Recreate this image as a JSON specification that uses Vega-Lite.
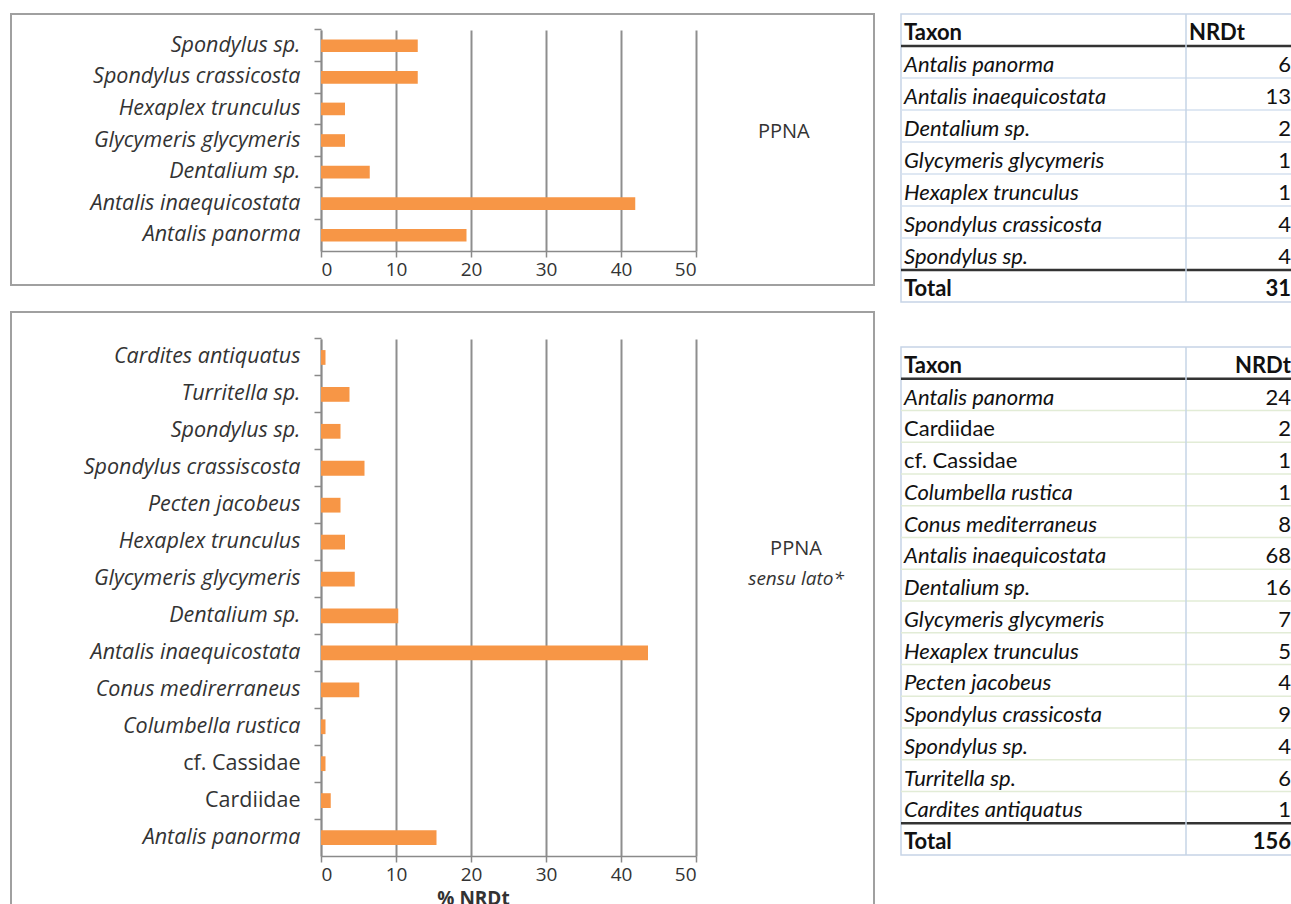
{
  "$schema": "https://vega.github.io/schema/vega-lite/v6.json",
  "padding": {"left": 10, "top": 12, "right": 0, "bottom": 0},
  "background": "white",
  "spacing": 24,
  "config": {
    "view": {"stroke": "#a0a0a0", "strokeWidth": 2},
    "axis": {"labelFont": "Open Sans", "titleFont": "Open Sans", "labelColor": "#333", "domainColor": "#8a8a8a", "tickColor": "#8a8a8a", "gridColor": "#8e8e8e", "domainWidth": 1.5, "tickWidth": 1.5, "gridWidth": 2}
  },
  "datasets": {
    "c1": [
      {"taxon": "Spondylus sp.", "pct": 12.9},
      {"taxon": "Spondylus crassicosta", "pct": 12.9},
      {"taxon": "Hexaplex trunculus", "pct": 3.2},
      {"taxon": "Glycymeris glycymeris", "pct": 3.2},
      {"taxon": "Dentalium sp.", "pct": 6.5},
      {"taxon": "Antalis inaequicostata", "pct": 41.9},
      {"taxon": "Antalis panorma", "pct": 19.4}
    ],
    "c2": [
      {"taxon": "Cardites antiquatus", "pct": 0.6},
      {"taxon": "Turritella sp.", "pct": 3.8},
      {"taxon": "Spondylus sp.", "pct": 2.6},
      {"taxon": "Spondylus crassiscosta", "pct": 5.8},
      {"taxon": "Pecten jacobeus", "pct": 2.6},
      {"taxon": "Hexaplex trunculus", "pct": 3.2},
      {"taxon": "Glycymeris glycymeris", "pct": 4.5},
      {"taxon": "Dentalium sp.", "pct": 10.3},
      {"taxon": "Antalis inaequicostata", "pct": 43.6},
      {"taxon": "Conus medirerraneus", "pct": 5.1},
      {"taxon": "Columbella rustica", "pct": 0.6},
      {"taxon": "cf. Cassidae", "pct": 0.6},
      {"taxon": "Cardiidae", "pct": 1.3},
      {"taxon": "Antalis panorma", "pct": 15.4}
    ],
    "t1": [
      {"r": 0, "taxon": "Taxon", "n": "NRDt"},
      {"r": 1, "taxon": "Antalis panorma", "n": 6},
      {"r": 2, "taxon": "Antalis inaequicostata", "n": 13},
      {"r": 3, "taxon": "Dentalium  sp.", "n": 2},
      {"r": 4, "taxon": "Glycymeris glycymeris", "n": 1},
      {"r": 5, "taxon": "Hexaplex trunculus", "n": 1},
      {"r": 6, "taxon": "Spondylus crassicosta", "n": 4},
      {"r": 7, "taxon": "Spondylus  sp.", "n": 4},
      {"r": 8, "taxon": "Total", "n": 31}
    ],
    "t2": [
      {"r": 0, "taxon": "Taxon", "n": "NRDt"},
      {"r": 1, "taxon": "Antalis panorma", "n": 24},
      {"r": 2, "taxon": "Cardiidae", "n": 2},
      {"r": 3, "taxon": "cf. Cassidae", "n": 1},
      {"r": 4, "taxon": "Columbella rustica", "n": 1},
      {"r": 5, "taxon": "Conus mediterraneus", "n": 8},
      {"r": 6, "taxon": "Antalis inaequicostata", "n": 68},
      {"r": 7, "taxon": "Dentalium  sp.", "n": 16},
      {"r": 8, "taxon": "Glycymeris glycymeris", "n": 7},
      {"r": 9, "taxon": "Hexaplex trunculus", "n": 5},
      {"r": 10, "taxon": "Pecten jacobeus", "n": 4},
      {"r": 11, "taxon": "Spondylus crassicosta", "n": 9},
      {"r": 12, "taxon": "Spondylus  sp.", "n": 4},
      {"r": 13, "taxon": "Turritella  sp.", "n": 6},
      {"r": 14, "taxon": "Cardites antiquatus", "n": 1},
      {"r": 15, "taxon": "Total", "n": 156}
    ]
  },
  "hconcat": [
    {
      "spacing": 25,
      "vconcat": [
        {
          "width": 863,
          "height": 271,
          "title": {"text": "PPNA", "orient": "right", "angle": 0, "align": "center", "baseline": "middle", "anchor": "middle", "offset": -142, "dy": -18, "font": "Open Sans", "fontSize": 20, "fontWeight": "normal", "color": "#333"},
          "data": {"name": "c1"},
          "encoding": {
            "y": {"field": "taxon", "type": "nominal", "sort": null,
              "scale": {"range": [16, 237], "paddingInner": 0.6, "paddingOuter": 0.3},
              "axis": {"title": null, "offset": -310, "bandPosition": -0.75, "labelFontSize": 21.5, "labelLimit": 400, "labelFontStyle": "italic", "tickSize": 7, "labelPadding": 14, "grid": false}}
          },
          "layer": [
            {"mark": {"type": "bar", "opacity": 0},
              "encoding": {"x": {"field": "pct", "type": "quantitative", "scale": {"domain": [0, 50], "range": [310, 685], "nice": false},
                "axis": {"orient": "top", "title": null, "values": [0, 10, 20, 30, 40, 50], "grid": true, "labels": false, "ticks": false, "domain": false}}}},
            {"mark": {"type": "bar", "color": "#f79646"},
              "encoding": {"x": {"field": "pct", "type": "quantitative", "scale": {"domain": [0, 50], "range": [310, 685], "nice": false},
                "axis": {"orient": "bottom", "title": null, "values": [0, 10, 20, 30, 40, 50], "offset": -34, "labelFontSize": 19, "tickSize": 6, "labelPadding": 3, "grid": false}}}}
          ],
          "resolve": {"axis": {"x": "independent"}}
        },
        {
          "width": 863,
          "height": 610,
          "title": {"text": "PPNA", "subtitle": "sensu lato*", "subtitleFontStyle": "italic", "subtitleFont": "Open Sans", "subtitleFontSize": 19, "subtitleColor": "#333", "subtitlePadding": 11, "orient": "top", "anchor": "start", "frame": "group", "align": "center", "dx": 785, "offset": -277, "font": "Open Sans", "fontSize": 20, "fontWeight": "normal", "color": "#333"},
          "data": {"name": "c2"},
          "encoding": {
            "y": {"field": "taxon", "type": "nominal", "sort": null,
              "scale": {"range": [27, 544], "paddingInner": 0.6, "paddingOuter": 0.3},
              "axis": {"title": null, "offset": -310, "bandPosition": -0.75, "labelFontSize": 21.5, "labelLimit": 400,
                "labelFontStyle": {"condition": {"test": "datum.value == 'cf. Cassidae' || datum.value == 'Cardiidae'", "value": "normal"}, "value": "italic"},
                "tickSize": 7, "labelPadding": 14, "grid": false}}
          },
          "layer": [
            {"mark": {"type": "bar", "opacity": 0},
              "encoding": {"x": {"field": "pct", "type": "quantitative", "scale": {"domain": [0, 50], "range": [310, 685], "nice": false},
                "axis": {"orient": "top", "title": null, "values": [0, 10, 20, 30, 40, 50], "grid": true, "labels": false, "ticks": false, "domain": false}}}},
            {"mark": {"type": "bar", "color": "#f79646"},
              "encoding": {"x": {"field": "pct", "type": "quantitative", "scale": {"domain": [0, 50], "range": [310, 685], "nice": false},
                "axis": {"orient": "bottom", "title": "% NRDt", "titleFontSize": 19, "titleFontWeight": "bold", "titleColor": "#333", "titleX": 462, "titleY": 33, "values": [0, 10, 20, 30, 40, 50], "offset": -66, "labelFontSize": 19, "tickSize": 6, "labelPadding": 3, "grid": false}}}}
          ],
          "resolve": {"axis": {"x": "independent"}}
        }
      ]
    },
    {
      "spacing": 41,
      "vconcat": [
        {
          "width": 393,
          "height": 288,
          "view": {"stroke": "#c6d4e6", "strokeWidth": 1.5},
          "data": {"name": "t1"},
          "encoding": {
            "y": {"field": "r", "type": "ordinal", "scale": {"type": "band", "paddingInner": 0, "paddingOuter": 0}, "axis": null}
          },
          "layer": [
            {"transform": [{"filter": "datum.r >= 2 && datum.r <= 7"}], "mark": {"type": "rule", "color": "#d5e1ef", "strokeWidth": 1.5}, "encoding": {"y": {"field": "r", "type": "ordinal", "bandPosition": 0}}},
            {"transform": [{"filter": "datum.r == 1 || datum.r == 8"}], "mark": {"type": "rule", "color": "#333", "strokeWidth": 2.5}, "encoding": {"y": {"field": "r", "type": "ordinal", "bandPosition": 0}}},
            {"transform": [{"filter": "datum.r == 0"}], "mark": {"type": "rule", "color": "#c6d4e6", "strokeWidth": 1.5}, "encoding": {"x": {"datum": "NRDt", "type": "nominal", "scale": {"type": "point", "domain": ["Taxon", "NRDt"], "range": [0, 285], "padding": 0}, "axis": null}, "y": null}},
            {"transform": [{"filter": "datum.r >= 1 && datum.r <= 7"}], "mark": {"type": "text", "align": "left", "dx": 3, "dy": 3, "font": "Lato", "fontSize": 22, "fontStyle": "italic", "color": "#111"},
              "encoding": {"x": {"datum": "Taxon", "type": "nominal"}, "text": {"field": "taxon"}}},
            {"transform": [{"filter": "datum.r == 0 || datum.r == 8"}], "mark": {"type": "text", "align": "left", "dx": 3, "dy": 3, "font": "Lato", "fontSize": 22, "fontWeight": "bold", "color": "#111"},
              "encoding": {"x": {"datum": "Taxon", "type": "nominal"}, "text": {"field": "taxon"}}},
            {"transform": [{"filter": "datum.r >= 1 && datum.r <= 7"}], "mark": {"type": "text", "align": "right", "dx": 105, "dy": 3, "font": "Lato", "fontSize": 22, "color": "#111"},
              "encoding": {"x": {"datum": "NRDt", "type": "nominal"}, "text": {"field": "n"}}},
            {"transform": [{"filter": "datum.r == 8"}], "mark": {"type": "text", "align": "right", "dx": 105, "dy": 3, "font": "Lato", "fontSize": 22, "fontWeight": "bold", "color": "#111"},
              "encoding": {"x": {"datum": "NRDt", "type": "nominal"}, "text": {"field": "n"}}},
            {"transform": [{"filter": "datum.r == 0"}], "mark": {"type": "text", "align": "left", "dx": 3, "dy": 3, "font": "Lato", "fontSize": 22, "fontWeight": "bold", "color": "#111"},
              "encoding": {"x": {"datum": "NRDt", "type": "nominal"}, "text": {"field": "n"}}}
          ]
        },
        {
          "width": 393,
          "height": 508,
          "view": {"stroke": "#c6d4e6", "strokeWidth": 1.5},
          "data": {"name": "t2"},
          "encoding": {
            "y": {"field": "r", "type": "ordinal", "scale": {"type": "band", "paddingInner": 0, "paddingOuter": 0}, "axis": null}
          },
          "layer": [
            {"transform": [{"filter": "datum.r >= 2 && datum.r <= 14"}], "mark": {"type": "rule", "color": "#e2ecd6", "strokeWidth": 1.5}, "encoding": {"y": {"field": "r", "type": "ordinal", "bandPosition": 0}}},
            {"transform": [{"filter": "datum.r == 1 || datum.r == 15"}], "mark": {"type": "rule", "color": "#333", "strokeWidth": 2.5}, "encoding": {"y": {"field": "r", "type": "ordinal", "bandPosition": 0}}},
            {"transform": [{"filter": "datum.r == 0"}], "mark": {"type": "rule", "color": "#c6d4e6", "strokeWidth": 1.5}, "encoding": {"x": {"datum": "NRDt", "type": "nominal", "scale": {"type": "point", "domain": ["Taxon", "NRDt"], "range": [0, 285], "padding": 0}, "axis": null}, "y": null}},
            {"transform": [{"filter": "datum.r >= 1 && datum.r <= 14 && datum.taxon != 'Cardiidae' && datum.taxon != 'cf. Cassidae'"}], "mark": {"type": "text", "align": "left", "dx": 3, "dy": 3, "font": "Lato", "fontSize": 22, "fontStyle": "italic", "color": "#111"},
              "encoding": {"x": {"datum": "Taxon", "type": "nominal"}, "text": {"field": "taxon"}}},
            {"transform": [{"filter": "datum.taxon == 'Cardiidae' || datum.taxon == 'cf. Cassidae'"}], "mark": {"type": "text", "align": "left", "dx": 3, "dy": 3, "font": "Lato", "fontSize": 22, "color": "#111"},
              "encoding": {"x": {"datum": "Taxon", "type": "nominal"}, "text": {"field": "taxon"}}},
            {"transform": [{"filter": "datum.r == 0 || datum.r == 15"}], "mark": {"type": "text", "align": "left", "dx": 3, "dy": 3, "font": "Lato", "fontSize": 22, "fontWeight": "bold", "color": "#111"},
              "encoding": {"x": {"datum": "Taxon", "type": "nominal"}, "text": {"field": "taxon"}}},
            {"transform": [{"filter": "datum.r >= 1 && datum.r <= 14"}], "mark": {"type": "text", "align": "right", "dx": 105, "dy": 3, "font": "Lato", "fontSize": 22, "color": "#111"},
              "encoding": {"x": {"datum": "NRDt", "type": "nominal"}, "text": {"field": "n"}}},
            {"transform": [{"filter": "datum.r == 0 || datum.r == 15"}], "mark": {"type": "text", "align": "right", "dx": 105, "dy": 3, "font": "Lato", "fontSize": 22, "fontWeight": "bold", "color": "#111"},
              "encoding": {"x": {"datum": "NRDt", "type": "nominal"}, "text": {"field": "n"}}}
          ]
        }
      ]
    }
  ]
}
